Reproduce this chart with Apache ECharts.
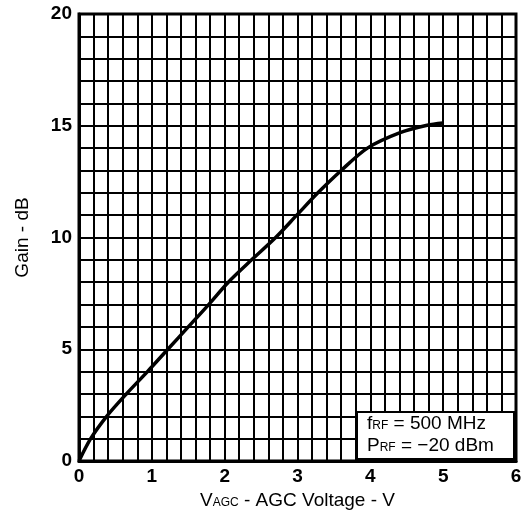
<!DOCTYPE html>
<html>
<head>
<meta charset="utf-8">
<script src="https://cdn.jsdelivr.net/npm/echarts@6/dist/echarts.min.js"></script>
<style>html,body{margin:0;padding:0;background:#fff;}#c{width:525px;height:519px;}</style>
</head>
<body>
<div id="c"></div>
<script>
const voltage = [0, 0.16, 0.38, 0.65, 0.94, 1.22, 1.5, 1.78, 2.05, 2.37, 2.7, 2.99, 3.28, 3.6, 3.96, 4.4, 4.78, 5.0];
const gain    = [0, 1, 2, 3, 4, 5, 6, 7, 8, 9, 10, 11, 12, 13, 14.0, 14.68, 15.02, 15.12];
const xTicks = [0, 1, 2, 3, 4, 5, 6];
const yTicks = [0, 5, 10, 15, 20];

const chart = echarts.init(document.getElementById('c'));
const lineStyle = {color: '#000', width: 2};
const FF = 'Liberation Sans, Arial, sans-serif';
chart.setOption({
  animation: false,
  backgroundColor: '#fff',
  grid: {left: 79, right: 9, top: 14, bottom: 58, show: true, borderColor: '#000', borderWidth: 3, backgroundColor: 'transparent'},
  xAxis: {
    type: 'value', min: xTicks[0], max: xTicks[xTicks.length-1], interval: 1,
    axisLine: {show: true, lineStyle: {color: '#000', width: 3}},
    axisTick: {show: false},
    axisLabel: {color: '#000', fontFamily: FF, fontWeight: 'bold', fontSize: 19, margin: 6},
    splitLine: {show: true, lineStyle: lineStyle},
    minorTick: {show: false, splitNumber: 5},
    minorSplitLine: {show: true, lineStyle: lineStyle},
    name: '{v|V}{s|AGC}{n| - AGC Voltage - V}',
    nameLocation: 'middle', nameGap: 30,
    nameTextStyle: {
      rich: {
        v: {fontFamily: FF, fontSize: 19, color: '#000'},
        s: {fontFamily: FF, fontSize: 12, color: '#000', padding: [5,0,0,0]},
        n: {fontFamily: FF, fontSize: 19, color: '#000'}
      }
    }
  },
  yAxis: {
    type: 'value', min: yTicks[0], max: yTicks[yTicks.length-1], interval: 5,
    axisLine: {show: true, lineStyle: {color: '#000', width: 3}},
    axisTick: {show: false},
    axisLabel: {color: '#000', fontFamily: FF, fontWeight: 'bold', fontSize: 19, margin: 7},
    splitLine: {show: true, lineStyle: lineStyle},
    minorTick: {show: false, splitNumber: 5},
    minorSplitLine: {show: true, lineStyle: lineStyle},
    name: 'Gain - dB', nameLocation: 'middle', nameGap: 47,
    nameTextStyle: {fontFamily: FF, fontSize: 19, color: '#000'}
  },
  series: [{
    type: 'line', data: voltage.map((v, i) => [v, gain[i]]),
    smooth: 0.3, symbol: 'none',
    lineStyle: {color: '#000', width: 3.5}, z: 5
  }],
  graphic: [
    {type: 'rect', z: 100, zlevel: 1, shape: {x: 357, y: 412, width: 157, height: 47}, style: {fill: '#fff', stroke: '#000', lineWidth: 2}},
    {type: 'text', z: 101, zlevel: 1, x: 367, y: 414, style: {
      text: '{a|f}{b|RF}{a| = 500 MHz}',
      rich: {
        a: {fontFamily: FF, fontSize: 19, fill: '#000'},
        b: {fontFamily: FF, fontSize: 12, fill: '#000', padding: [5,0,0,0]}
      }
    }},
    {type: 'text', z: 101, zlevel: 1, x: 367, y: 436, style: {
      text: '{a|P}{b|RF}{a| = \u221220 dBm}',
      rich: {
        a: {fontFamily: FF, fontSize: 19, fill: '#000'},
        b: {fontFamily: FF, fontSize: 12, fill: '#000', padding: [5,0,0,0]}
      }
    }}
  ]
});
</script>
</body>
</html>
